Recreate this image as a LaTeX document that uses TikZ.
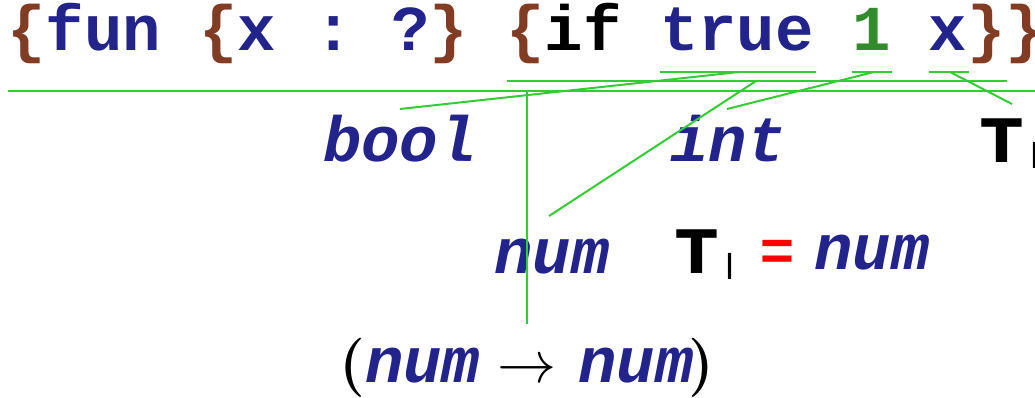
\documentclass[tikz,border=0pt]{standalone}
\usepackage{fix-cm}
\usepackage{fontspec}
\usepackage{amsmath}
\newfontfamily\monofam{Liberation Mono}
\newfontfamily\sansfam{Liberation Sans}
\newfontfamily\dejafam{DejaVu Sans}
\definecolor{codeblue}{RGB}{35,35,140}
\definecolor{bracebrown}{RGB}{130,60,35}
\definecolor{numgreen}{RGB}{50,140,45}
\definecolor{treegreen}{RGB}{50,205,50}
\newcommand{\codefont}{\monofam\bfseries\fontsize{64}{64}\selectfont}
\newcommand{\typfont}{\monofam\bfseries\itshape\fontsize{64}{64}\selectfont}
\newcommand{\Tfont}{\dejafam\bfseries\fontsize{60}{60}\selectfont}
\newcommand{\subfont}{\sansfam\fontsize{36}{36}\selectfont}
\newcommand{\eqfont}{\sansfam\bfseries\fontsize{58}{58}\selectfont}
\newcommand{\parfont}{\rmfamily\bfseries\upshape\fontsize{59}{59}\selectfont}
\newcommand{\brc}[1]{\textcolor{bracebrown}{#1}}

\begin{document}
\begin{tikzpicture}[x=1pt,y=-1pt,
  tree/.style={draw=treegreen,line width=2pt},
  typ/.style={inner sep=0pt,anchor=base,font=\typfont,text=codeblue},
  tvar/.style={inner sep=0pt,anchor=base,font=\Tfont},
  tsub/.style={inner sep=0pt,anchor=base,font=\subfont}]
 \useasboundingbox (0,0) rectangle (1035,398); %描画範囲
 \node[inner sep=0pt,anchor=base west,font=\codefont,text=codeblue] (code) at (7,51)
   {\frenchspacing\brc{\{}fun \brc{\{}x : ?\brc{\}} \brc{\{}\textcolor{black}{if} true \textcolor{numgreen}{1} x\brc{\}\}}}; %プログラム
 \node[typ] (bool) at (400,162) {bool}; %trueの型
 \node[typ] (int) at (728,161) {int}; %1の型
 \node[tvar] (T1) at (1001.5,163) {T}; %xの型
 \node[tsub] (l1) at (1034.5,169) {l}; %添字
 \node[typ] (num) at (552,273) {num}; %ifの型
 \node[tvar] (T2) at (696.5,273) {T}; %制約の左辺
 \node[tsub] (l2) at (729.5,279) {l}; %添字
 \node[inner sep=0pt,anchor=base,font=\eqfont,text=red] (eq) at (777,270) {=}; %等号
 \node[typ] (num2) at (872,269) {num}; %制約の右辺
 \node[inner sep=0pt,anchor=base west,font=\typfont,text=codeblue] (fnty) at (339,382)
   {{\parfont\color{black}(}num\hspace{17pt}{\parfont\color{black}$\rightarrow$}\hspace{22pt}num\hspace{-5pt}{\parfont\color{black})}}; %funの型
 \coordinate (TrueL) at (660,72); %trueの下線
 \coordinate (TrueR) at (816,72);
 \coordinate (TrueM) at (739,72);
 \coordinate (OneL) at (852,72); %1の下線
 \coordinate (OneR) at (892,72);
 \coordinate (OneM) at (874,72);
 \coordinate (XL) at (929,72); %xの下線
 \coordinate (XR) at (969,72);
 \coordinate (XM) at (950,72);
 \coordinate (IfL) at (507,81); %ifの下線
 \coordinate (IfR) at (1007,81);
 \coordinate (IfM) at (756,81);
 \coordinate (FunL) at (8,91); %funの下線
 \coordinate (FunR) at (1040,91);
 \coordinate (FunM) at (527,91);
 \coordinate (BoolE) at (400,109); %線の先
 \coordinate (IntE) at (727,109);
 \coordinate (TlE) at (1012,104);
 \coordinate (NumE) at (549,216);
 \coordinate (FnE) at (527,324);
 \draw[tree] (TrueL)--(TrueR); %下線
 \draw[tree] (OneL)--(OneR);
 \draw[tree] (XL)--(XR);
 \draw[tree] (IfL)--(IfR);
 \draw[tree] (FunL)--(FunR);
 \draw[tree] (TrueM)--(BoolE); %型へ
 \draw[tree] (OneM)--(IntE);
 \draw[tree] (XM)--(TlE);
 \draw[tree] (IfM)--(NumE);
 \draw[tree] (FunM)--(FnE);
\end{tikzpicture}
\end{document}
